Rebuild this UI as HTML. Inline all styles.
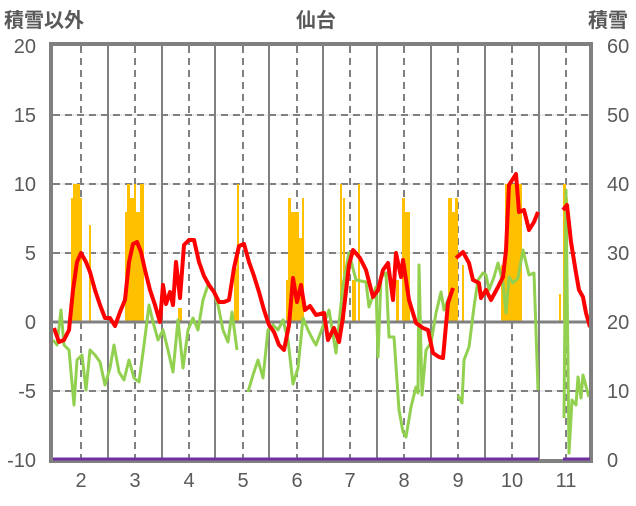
<!DOCTYPE html>
<html><head><meta charset="utf-8"><style>
body{margin:0;background:#fff}
svg text{font-family:"Liberation Sans","Noto Sans CJK JP",sans-serif;fill:#595959}
</style></head><body>
<svg width="636" height="501" viewBox="0 0 636 501" xmlns="http://www.w3.org/2000/svg">
<text x="4" y="27" font-size="20" font-weight="bold">積雪以外</text>
<text x="296" y="27" font-size="20" font-weight="bold">仙台</text>
<text x="588" y="27" font-size="20" font-weight="bold">積雪</text>
<g font-size="20" text-anchor="end">
<text x="36" y="53">20</text><text x="36" y="122">15</text><text x="36" y="191">10</text><text x="36" y="260">5</text><text x="36" y="329">0</text><text x="36" y="398">-5</text><text x="36" y="467">-10</text>
</g>
<g font-size="20">
<text x="607" y="53">60</text><text x="607" y="122">50</text><text x="607" y="191">40</text><text x="607" y="260">30</text><text x="607" y="329">20</text><text x="607" y="398">10</text><text x="607" y="467">0</text>
</g>
<g font-size="20" text-anchor="middle">
<text x="81" y="487">2</text><text x="135" y="487">3</text><text x="189" y="487">4</text><text x="243" y="487">5</text><text x="297" y="487">6</text><text x="350" y="487">7</text><text x="404" y="487">8</text><text x="458" y="487">9</text><text x="512" y="487">10</text><text x="566" y="487">11</text>
</g>
<g stroke="#d9d9d9" stroke-width="1">
<line x1="53" y1="115" x2="590" y2="115"/><line x1="53" y1="184" x2="590" y2="184"/><line x1="53" y1="253" x2="590" y2="253"/><line x1="53" y1="391" x2="590" y2="391"/>
</g>
<g stroke="#808080" stroke-width="2" stroke-dasharray="7,5">
<line x1="53" y1="115" x2="590" y2="115"/><line x1="53" y1="184" x2="590" y2="184"/><line x1="53" y1="253" x2="590" y2="253"/><line x1="53" y1="391" x2="590" y2="391"/>
<line x1="81" y1="46" x2="81" y2="459"/><line x1="135" y1="46" x2="135" y2="459"/><line x1="189" y1="46" x2="189" y2="459"/><line x1="243" y1="46" x2="243" y2="459"/><line x1="297" y1="46" x2="297" y2="459"/><line x1="350" y1="46" x2="350" y2="459"/><line x1="404" y1="46" x2="404" y2="459"/><line x1="458" y1="46" x2="458" y2="459"/><line x1="512" y1="46" x2="512" y2="459"/><line x1="566" y1="46" x2="566" y2="459"/>
</g>
<g stroke="#808080" stroke-width="2">
<line x1="108" y1="46" x2="108" y2="459"/><line x1="162" y1="46" x2="162" y2="459"/><line x1="215" y1="46" x2="215" y2="459"/><line x1="269" y1="46" x2="269" y2="459"/><line x1="323" y1="46" x2="323" y2="459"/><line x1="377" y1="46" x2="377" y2="459"/><line x1="431" y1="46" x2="431" y2="459"/><line x1="485" y1="46" x2="485" y2="459"/><line x1="539" y1="46" x2="539" y2="459"/>
</g>
<g fill="#ffc000">
<rect x="71" y="198" width="3" height="124"/><rect x="73" y="184" width="7" height="138"/><rect x="80" y="198" width="2" height="124"/><rect x="89" y="225" width="2" height="97"/>
<rect x="125" y="212" width="3" height="110"/><rect x="127" y="184" width="3" height="138"/><rect x="130" y="198" width="4" height="124"/><rect x="134" y="184" width="2" height="138"/><rect x="136" y="212" width="4" height="110"/><rect x="140" y="184" width="4" height="138"/>
<rect x="178" y="308" width="4" height="14"/><rect x="237" y="184" width="2" height="138"/><rect x="234" y="268" width="4" height="54"/>
<rect x="286" y="280" width="3" height="42"/><rect x="288" y="198" width="3" height="124"/><rect x="290" y="212" width="9" height="110"/><rect x="299" y="238" width="3" height="84"/><rect x="302" y="198" width="2" height="124"/>
<rect x="340" y="184" width="2" height="138"/><rect x="343" y="198" width="2" height="124"/><rect x="352" y="280" width="4" height="42"/><rect x="358" y="184" width="2" height="138"/>
<rect x="396" y="280" width="3" height="42"/><rect x="402" y="198" width="3" height="124"/><rect x="405" y="212" width="5" height="110"/>
<rect x="448" y="198" width="4" height="124"/><rect x="452" y="212" width="3" height="110"/><rect x="455" y="198" width="3" height="124"/><rect x="462" y="265" width="2" height="57"/>
<rect x="501" y="265" width="5" height="57"/><rect x="505" y="184" width="17" height="138"/>
<rect x="559" y="294" width="2" height="28"/><rect x="563" y="184" width="3" height="138"/><rect x="566" y="198" width="2" height="124"/>
</g>
<line x1="53" y1="322" x2="590" y2="322" stroke="#808080" stroke-width="3"/>
<polyline fill="none" stroke="#92d050" stroke-width="3" stroke-linejoin="round" points="53,340 57,345 61,310 64,345 69,350 74,405 77,360 82,355 86,390 90,350 95,355 100,362 105,385 110,368 114,345 119,372 124,380 129,360 134,378 139,382 144,345 149,305 153,322 158,340 163,330 168,350 173,372 178,320 183,368 188,330 193,318 198,330 203,300 208,285 213,290 218,305 223,330 228,342 232,312 237,350"/>
<polyline fill="none" stroke="#92d050" stroke-width="3" stroke-linejoin="round" points="248,392 253,375 258,360 263,378 268,330 273,325 278,330 283,320 288,340 293,384 298,368 303,318 308,330 313,340 316,345 329,310 336,353 343,285 349,253 356,280 366,282 369,307 376,287 378,357 381,277 386,273 389,337 394,337 399,410 403,432 406,437 411,407 416,387 418,393 419,265 422,395 426,350 431,343 436,313 441,292 444,310 449,297 451,293"/>
<polyline fill="none" stroke="#92d050" stroke-width="3" stroke-linejoin="round" points="458,395 462,403 464,360 469,347 474,307 478,280 483,273 486,275 489,290 494,277 498,263 503,283 506,313 509,277 513,283 518,278 523,250 529,275 534,273 538,390"/>
<polyline fill="none" stroke="#92d050" stroke-width="3" stroke-linejoin="round" points="564,418 566,190 569,453 572,400 576,405 578,377 581,398 583,375 587,390 589,397"/>
<polyline fill="none" stroke="#ff0000" stroke-width="4" stroke-linejoin="round" points="54,328 59,342 64,340 69,330 73,290 77,262 81,253 86,262 90,272 95,290 100,305 105,318 110,318 115,326 120,312 125,300 129,262 133,244 137,242 141,252 145,270 150,290 155,305 160,322 163,285 166,304 170,292 173,305 176,262 180,298 184,245 189,240 194,240 199,262 204,276 209,285 214,292 219,302 224,302 229,300 234,268 239,246 244,244 249,262 254,276 259,292 264,310 269,325 274,332 279,345 284,350 289,325 293,278 297,302 301,285 305,310 310,306 316,315 324,313 328,340 334,328 339,342 343,317 349,265 353,250 360,258 366,270 373,297 378,290 383,270 388,263 393,300 396,253 401,277 403,260 409,300 416,323 423,328 428,330 433,353 439,357 443,358 448,303 453,288"/>
<polyline fill="none" stroke="#ff0000" stroke-width="4" stroke-linejoin="round" points="456,258 463,252 469,263 473,280 479,283 481,298 486,290 491,300 498,287 503,277 506,250 509,185 516,174 519,212 524,210 529,230 534,222 538,212"/>
<polyline fill="none" stroke="#ff0000" stroke-width="4" stroke-linejoin="round" points="563,210 567,205 571,242 576,273 579,290 583,297 586,313 590,327"/>
<rect x="51" y="44" width="540" height="417" fill="none" stroke="#808080" stroke-width="4"/>
<line x1="53" y1="459" x2="539" y2="459" stroke="#7030a0" stroke-width="3"/>
<line x1="563" y1="459" x2="590" y2="459" stroke="#7030a0" stroke-width="3"/>
</svg>
</body></html>
